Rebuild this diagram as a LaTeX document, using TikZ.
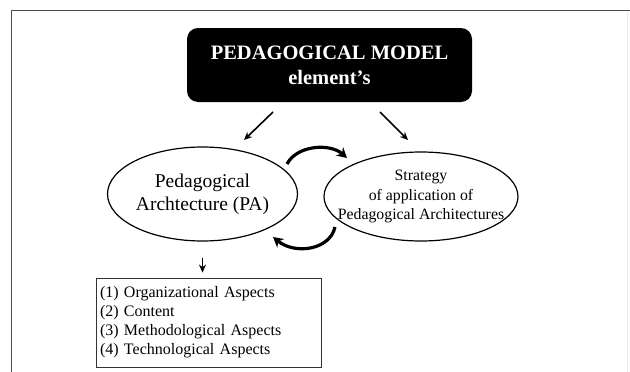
\documentclass[tikz,border=0pt]{standalone}
\usepackage{fontspec}
\setmainfont{Liberation Serif}
\usetikzlibrary{shapes.geometric,arrows.meta}
\tikzset{
  frameline/.style={draw=black!70, line width=1.5pt},
  elli/.style={draw=black, ellipse, line width=1.2pt, inner sep=0pt},
  thinarrow/.style={line width=1.6pt, -{Stealth[length=8pt,width=7pt]}},
  bigarrow/.style={line width=3.2pt, -{Stealth[length=10pt,width=11pt]}},
  listbox/.style={draw=black!80, line width=0.9pt, minimum width=225pt, minimum height=89pt, text width=217pt, align=left, inner sep=4pt}
}
\begin{document}
\begin{tikzpicture}[x=1pt,y=-1pt]
\useasboundingbox (0,0) rectangle (630,372);
\fill[white] (0,0) rectangle (630,372);
\draw[frameline] (11.5,380) -- (11.5,10.5) -- (640,10.5);
\draw[black!8, line width=1pt] (627,11) -- (627,380);
% title box
\node[fill=black, rounded corners=11pt, minimum width=285pt, minimum height=74pt, inner sep=0pt] (M) at (329.5,65) {};
\node[text=white, align=center, font=\bfseries\fontsize{20.5}{25}\selectfont] (Mt) at (M.center) {PEDAGOGICAL MODEL\\element’s};
% ellipses
\node[elli, minimum width=190pt, minimum height=94pt] (L) at (202.5,194) {};
\node[align=center, font=\fontsize{19.5}{23}\selectfont] (Lt) at (L.center) {Pedagogical\\Archtecture (PA)};
\node[elli, minimum width=194pt, minimum height=89pt] (R) at (421,196.5) {};
\node[align=center, font=\fontsize{15.8}{19.5}\selectfont] (Rt) at (R.center) {Strategy\\of application of\\Pedagogical Architectures};
% list box
\node[listbox, font=\fontsize{16}{19}\selectfont] (B) at (208.5,322.5) {(1) Organizational Aspects\\(2) Content\\(3) Methodological Aspects\\(4) Technological Aspects};
% arrows from title
\draw[thinarrow] ([shift={(-56.5,47)}]M.center) -- ([shift={(41.5,-54)}]L.center);
\draw[thinarrow] ([shift={(50.5,47)}]M.center) -- ([shift={(-13,-56.5)}]R.center);
% down arrow
\draw[thinarrow] ([yshift=-16pt]L.south) -- ([yshift=5pt]B.north -| L.south);
% curved arrows
\draw[bigarrow] ([shift={(84.5,-30)}]L.center) .. controls +(10,-19) and +(-17,-15) .. ([shift={(-74,-38.5)}]R.center);
\draw[bigarrow] ([shift={(-86,30.5)}]R.center) .. controls +(-5,23) and +(22,18) .. ([shift={(70.5,43)}]L.center);
\end{tikzpicture}
\end{document}
